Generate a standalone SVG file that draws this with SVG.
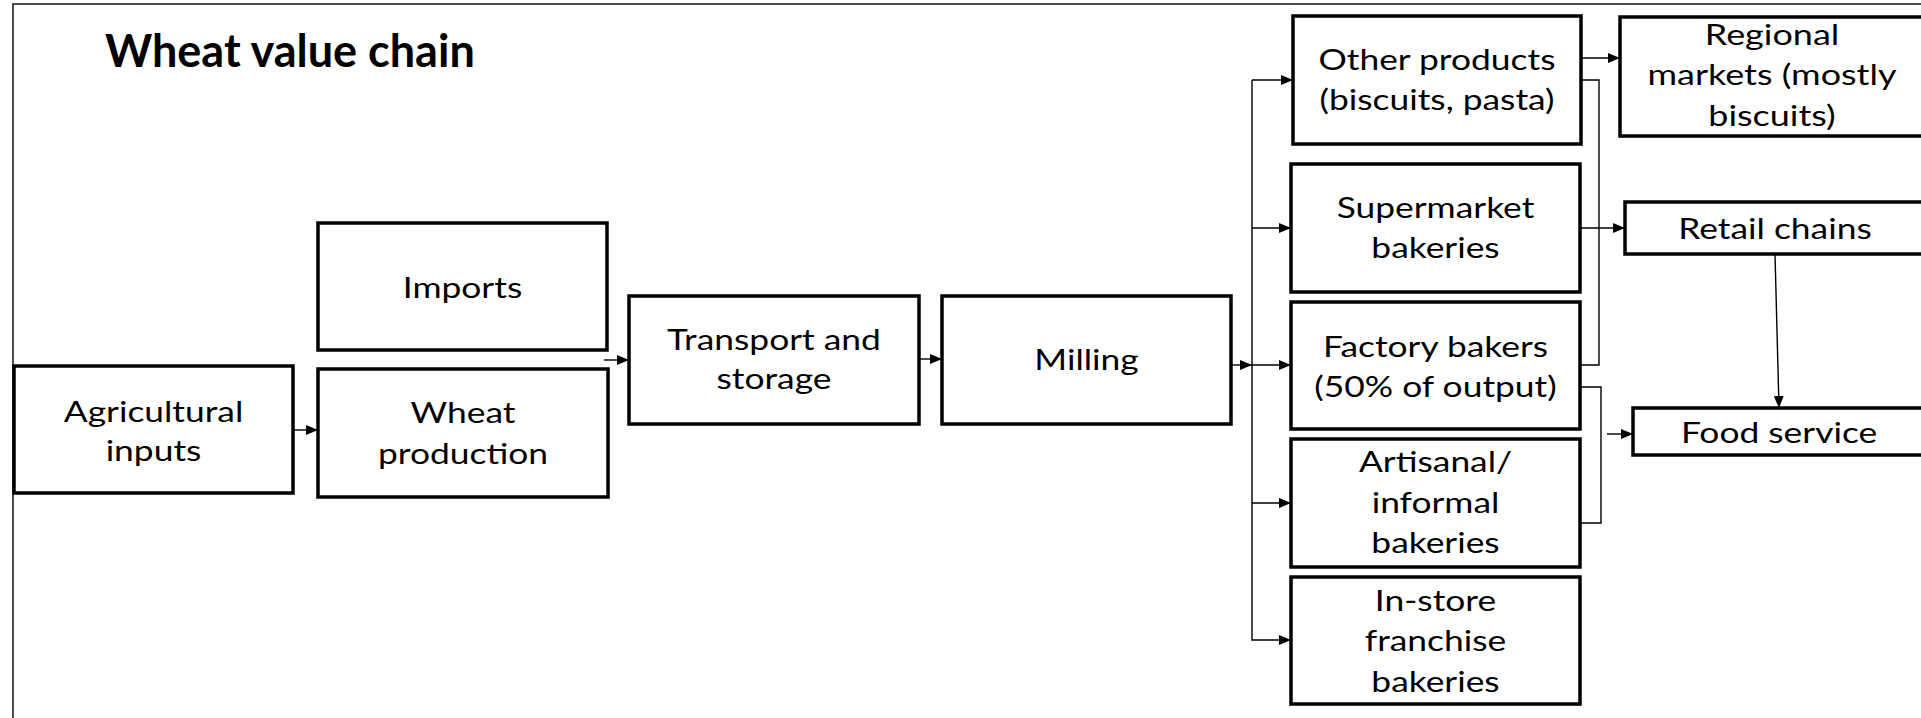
<svg xmlns="http://www.w3.org/2000/svg" width="1921" height="718" viewBox="0 0 1921 718">
<style>
.bg{fill:#fff}
.frame{fill:none;stroke:#222;stroke-width:1.6}
.box{fill:#fff;stroke:#000;stroke-width:3.5;stroke-linejoin:miter}
.lbl{font-family:Lato,"Open Sans","Liberation Sans",sans-serif;font-size:29px;fill:#000;text-anchor:middle}
.title{font-family:Lato,"Liberation Sans",sans-serif;font-size:45px;font-weight:bold;fill:#000}
.con{fill:none;stroke:#000;stroke-width:1.4}
</style>
<defs>
<marker id="ah" markerUnits="userSpaceOnUse" markerWidth="12" markerHeight="10" refX="12" refY="5" orient="auto">
<path d="M0,0 L12,5 L0,10 z" fill="#000"/>
</marker>
</defs>
<rect class="bg" x="0" y="0" width="1921" height="718"/>
<rect class="frame" x="13" y="4" width="2000" height="2000"/>
<text class="title" x="105" y="67">Wheat value chain</text>

<g id="connectors">
<line class="con" x1="293" y1="430" x2="318" y2="430" marker-end="url(#ah)"/>
<line class="con" x1="604" y1="360" x2="629" y2="360" marker-end="url(#ah)"/>
<line class="con" x1="919" y1="359" x2="942" y2="359" marker-end="url(#ah)"/>
<line class="con" x1="1231" y1="365" x2="1252" y2="365" marker-end="url(#ah)"/>
<polyline class="con" points="1252,80 1252,640 1291,640" marker-end="url(#ah)"/>
<line class="con" x1="1252" y1="80" x2="1293" y2="80" marker-end="url(#ah)"/>
<line class="con" x1="1252" y1="228" x2="1291" y2="228" marker-end="url(#ah)"/>
<line class="con" x1="1252" y1="365" x2="1291" y2="365" marker-end="url(#ah)"/>
<line class="con" x1="1252" y1="503" x2="1291" y2="503" marker-end="url(#ah)"/>
<line class="con" x1="1581" y1="58" x2="1620" y2="58" marker-end="url(#ah)"/>
<polyline class="con" points="1581,80 1599,80 1599,365 1580,365"/>
<line class="con" x1="1580" y1="228" x2="1625" y2="228" marker-end="url(#ah)"/>
<polyline class="con" points="1580,387 1601,387 1601,523 1580,523"/>
<line class="con" x1="1607" y1="434" x2="1633" y2="434" marker-end="url(#ah)"/>
<line class="con" x1="1775" y1="254" x2="1779" y2="408" marker-end="url(#ah)"/>
</g>

<g id="n-agri">
<rect class="box" x="14" y="366" width="279" height="127"/>
<text class="lbl" transform="translate(153.5 0) scale(1.22 1)"><tspan x="0" y="422">Agricultural</tspan><tspan x="0" y="461">inputs</tspan></text>
</g>
<g id="n-imports">
<rect class="box" x="318" y="223" width="289" height="127"/>
<text class="lbl" transform="translate(462.5 0) scale(1.22 1)"><tspan x="0" y="298">Imports</tspan></text>
</g>
<g id="n-wheat">
<rect class="box" x="318" y="369" width="290" height="128"/>
<text class="lbl" transform="translate(463 0) scale(1.22 1)"><tspan x="0" y="423">Wheat</tspan><tspan x="0" y="464">production</tspan></text>
</g>
<g id="n-transport">
<rect class="box" x="629" y="296" width="290" height="128"/>
<text class="lbl" transform="translate(774 0) scale(1.22 1)"><tspan x="0" y="350">Transport and</tspan><tspan x="0" y="389">storage</tspan></text>
</g>
<g id="n-milling">
<rect class="box" x="942" y="296" width="289" height="128"/>
<text class="lbl" transform="translate(1086.5 0) scale(1.22 1)"><tspan x="0" y="370">Milling</tspan></text>
</g>
<g id="n-other">
<rect class="box" x="1293" y="16" width="288" height="128"/>
<text class="lbl" transform="translate(1437 0) scale(1.22 1)"><tspan x="0" y="70">Other products</tspan><tspan x="0" y="110">(biscuits, pasta)</tspan></text>
</g>
<g id="n-regional">
<rect class="box" x="1620" y="17" width="304" height="119"/>
<text class="lbl" transform="translate(1772 0) scale(1.24 1)"><tspan x="0" y="45">Regional</tspan><tspan x="0" y="85">markets (mostly</tspan><tspan x="0" y="126">biscuits)</tspan></text>
</g>
<g id="n-supermarket">
<rect class="box" x="1291" y="164" width="289" height="128"/>
<text class="lbl" transform="translate(1435.5 0) scale(1.22 1)"><tspan x="0" y="218">Supermarket</tspan><tspan x="0" y="258">bakeries</tspan></text>
</g>
<g id="n-retail">
<rect class="box" x="1625" y="202" width="300" height="52"/>
<text class="lbl" transform="translate(1775 0) scale(1.22 1)"><tspan x="0" y="239">Retail chains</tspan></text>
</g>
<g id="n-factory">
<rect class="box" x="1291" y="302" width="289" height="127"/>
<text class="lbl" transform="translate(1435.5 0) scale(1.22 1)"><tspan x="0" y="357">Factory bakers</tspan><tspan x="0" y="397">(50% of output)</tspan></text>
</g>
<g id="n-food">
<rect class="box" x="1633" y="408" width="292" height="47"/>
<text class="lbl" transform="translate(1779 0) scale(1.22 1)"><tspan x="0" y="443">Food service</tspan></text>
</g>
<g id="n-artisanal">
<rect class="box" x="1291" y="439" width="289" height="128"/>
<text class="lbl" transform="translate(1435.5 0) scale(1.22 1)"><tspan x="0" y="472">Artisanal/</tspan><tspan x="0" y="513">informal</tspan><tspan x="0" y="553">bakeries</tspan></text>
</g>
<g id="n-instore">
<rect class="box" x="1291" y="577" width="289" height="127"/>
<text class="lbl" transform="translate(1435.5 0) scale(1.22 1)"><tspan x="0" y="611">In-store</tspan><tspan x="0" y="651">franchise</tspan><tspan x="0" y="692">bakeries</tspan></text>
</g>
</svg>
